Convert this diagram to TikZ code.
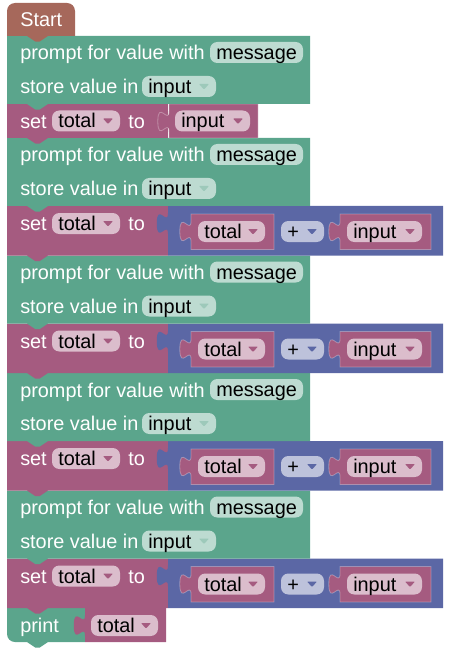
\documentclass[tikz,border=0pt]{standalone}
\usepackage{fontspec}
\setmainfont{Liberation Sans}

\definecolor{hatcol}{HTML}{A6685B}
\definecolor{textcol}{HTML}{5BA58C}
\definecolor{varcol}{HTML}{A55B80}
\definecolor{mathcol}{HTML}{5B67A5}
\definecolor{textfld}{HTML}{BDDBD1}
\definecolor{varfld}{HTML}{DBBDCC}
\definecolor{mathfld}{HTML}{BDC2DB}
\colorlet{textarrow}{textcol!60!white}

\newcommand\blkfont{\fontsize{14.9}{17}\selectfont}

% statement block: colour, left, right, top, bottom (with the notch tab below)
\newcommand\stmt[5]{%
  \fill[#1] (#2,#4) -- (#3,#4) -- (#3,#5) -- (48,#5) -- (39.6,#5+5.6)
    -- (35.4,#5+5.6) -- (27,#5) -- (#2,#5) -- cycle;}

% value block with the output tab on its left edge: style, left, right, top, bottom
\newcommand\valblk[5]{%
  \path[#1] (#2,#4) -- (#3,#4) -- (#3,#5) -- (#2,#5) -- (#2,#4+28)
    .. controls (#2,#4+14) and (#2-11.2,#4+39.2) .. (#2-11.2,#4+17.5)
    .. controls (#2-11.2,#4-4.2) and (#2,#4+21) .. (#2,#4+7) -- cycle;}

% text field: name, left, right, centre y, text, fill
\newcommand\tfld[6]{%
  \fill[#6, rounded corners=5.5] (#2,#4-10.5) rectangle (#3,#4+10.5);
  \node[fldtext] (#1) at (#2+6,#4+7) {#5};}

% dropdown field: name, left, right, centre y, text, fill, arrow colour
\newcommand\ddfld[7]{%
  \fill[#6, rounded corners=5.5] (#2,#4-10.5) rectangle (#3,#4+10.5);
  \node[fldtext] (#1) at (#2+6,#4+7) {#5};
  \fill[#7, rounded corners=0.6] (#3-17,#4-2.5) -- (#3-7,#4-2.5) -- (#3-12,#4+3) -- cycle;}

% prompt block: id, top
\newcommand\promptblk[2]{%
  \stmt{textcol}{7}{310}{#2}{#2+68}
  \node[lbl] (#1a) at (20,#2+24) {prompt for value with};
  \tfld{#1m}{210}{303}{#2+16.5}{message}{textfld}
  \node[lbl] (#1b) at (20,#2+57.5) {store value in};
  \ddfld{#1v}{142}{216}{#2+50.5}{input}{textfld}{textarrow}}

% set block holding total + input: id, top
\newcommand\sumblk[2]{%
  \stmt{varcol}{7}{168}{#2}{#2+49.5}
  \node[lbl] (#1s) at (20,#2+24.5) {set};
  \ddfld{#1t}{52}{120}{#2+17.5}{total}{varfld}{varcol}
  \node[lbl] (#1o) at (128,#2+24.5) {to};
  \valblk{fill=mathcol}{168}{443}{#2}{#2+49.5}
  \valblk{innervar}{191}{274}{#2+8}{#2+43.5}
  \ddfld{#1x}{198}{265}{#2+25.5}{total}{varfld}{varcol}
  \ddfld{#1p}{281}{324}{#2+25.5}{+}{mathfld}{mathcol}
  \valblk{innervar}{340}{431}{#2+8}{#2+43.5}
  \ddfld{#1y}{347}{422}{#2+25.5}{input}{varfld}{varcol}}

\begin{document}
\begin{tikzpicture}[x=0.75pt, y=-0.75pt,
    lbl/.style={text=white, anchor=base west, inner sep=0pt, font=\blkfont},
    fldtext/.style={text=black, anchor=base west, inner sep=0pt, font=\blkfont},
    innervar/.style={fill=varcol, draw=white, draw opacity=0.3, line width=0.6}]
  \useasboundingbox (0,0) rectangle (449,652);

  % print total (drawn first, the stack is painted bottom-up)
  \fill[textcol] (7,608) -- (85,608) -- (85,642) -- (48,642) -- (39.6,647.6)
    -- (35.4,647.6) -- (27,642) -- (15,642) .. controls (10.6,642) and (7,638.4) .. (7,634) -- cycle;
  \node[lbl] (pr) at (20,632.5) {print};
  \valblk{fill=varcol}{85}{166}{608}{642}
  \ddfld{prv}{91}{158}{625.5}{total}{varfld}{varcol}

  \sumblk{s5}{558.5}
  \promptblk{p5}{490.5}
  \sumblk{s4}{441}
  \promptblk{p4}{373}
  \sumblk{s3}{323.5}
  \promptblk{p3}{255.5}
  \sumblk{s2}{206}
  \promptblk{p2}{138}

  % set total to input
  \stmt{varcol}{7}{168}{104}{138}
  \node[lbl] (s1s) at (20,128.5) {set};
  \ddfld{s1t}{52}{120}{121}{total}{varfld}{varcol}
  \node[lbl] (s1o) at (128,128.5) {to};
  \valblk{innervar}{169}{258}{104}{138}
  \ddfld{s1v}{175}{250}{121}{input}{varfld}{varcol}

  \promptblk{p1}{36}

  % Start hat
  \fill[hatcol] (7,36) -- (7,11) .. controls (7,6.6) and (10.6,3) .. (15,3) -- (67,3)
    .. controls (71.4,3) and (75,6.6) .. (75,11) -- (75,36) -- (48,36) -- (39.6,41.6)
    -- (35.4,41.6) -- (27,36) -- cycle;
  \node[lbl] (start) at (20,26.5) {Start};
\end{tikzpicture}
\end{document}
